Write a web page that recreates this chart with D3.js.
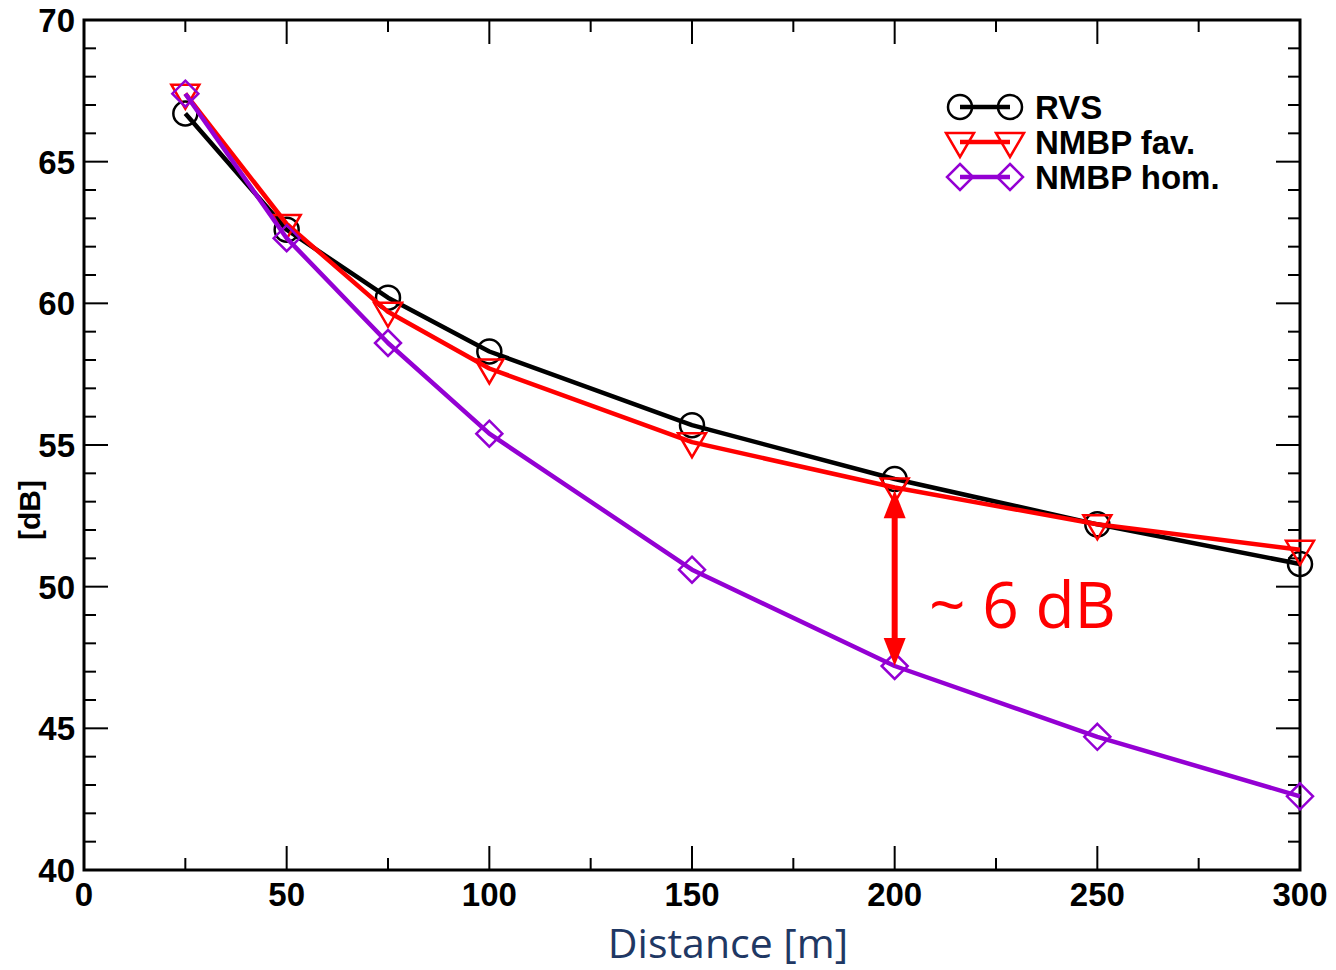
<!DOCTYPE html>
<html><head><meta charset="utf-8">
<script src="https://cdn.jsdelivr.net/npm/d3@7/dist/d3.min.js"></script>
<style>body{margin:0;background:#fff}svg{display:block}</style>
</head><body>
<svg id="c" width="1336" height="970"></svg>
<script>
const distances = [25, 50, 75, 100, 150, 200, 250, 300];
const rvs      = [66.7, 62.6, 60.2, 58.3, 55.7, 53.8, 52.2, 50.8];
const nmbpFav  = [67.4, 62.8, 59.7, 57.7, 55.1, 53.5, 52.2, 51.3];
const nmbpHom  = [67.4, 62.3, 58.6, 55.4, 50.6, 47.2, 44.7, 42.6];
const seriesNames = ["RVS", "NMBP fav.", "NMBP hom."];
const xTicks = [0, 50, 100, 150, 200, 250, 300];
const yTicks = [40, 45, 50, 55, 60, 65, 70];
const annotation = {x: 200, from: 53.4, to: 47.2, label: "~ 6 dB"};

const svg = d3.select("#c");
const L = 84, R = 1300, T = 20, B = 870;
const x = d3.scaleLinear().domain([0, 300]).range([L, R]);
const y = d3.scaleLinear().domain([40, 70]).range([B, T]);
const font = "'Liberation Sans', Arial, Helvetica, sans-serif";

// ticks (inward, all four sides)
const g = svg.append("g").attr("stroke", "#000").attr("stroke-width", 2);
d3.range(0, 301, 25).forEach(v => {
  const len = v % 50 === 0 ? 24 : 12;
  g.append("line").attr("x1", x(v)).attr("x2", x(v)).attr("y1", B).attr("y2", B - len);
  g.append("line").attr("x1", x(v)).attr("x2", x(v)).attr("y1", T).attr("y2", T + len);
});
d3.range(40, 71, 1).forEach(v => {
  const len = v % 5 === 0 ? 24 : 12;
  g.append("line").attr("y1", y(v)).attr("y2", y(v)).attr("x1", L).attr("x2", L + len);
  g.append("line").attr("y1", y(v)).attr("y2", y(v)).attr("x1", R).attr("x2", R - len);
});
svg.append("rect").attr("x", L).attr("y", T).attr("width", R - L).attr("height", B - T)
  .attr("fill", "none").attr("stroke", "#000").attr("stroke-width", 3);

// tick labels
svg.append("g").selectAll("text").data(xTicks).join("text")
  .attr("x", d => x(d)).attr("y", B + 36).attr("text-anchor", "middle")
  .attr("font-family", font).attr("font-weight", "bold").attr("font-size", 33)
  .text(d => d);
svg.append("g").selectAll("text").data(yTicks).join("text")
  .attr("x", L - 9).attr("y", d => y(d) + 12).attr("text-anchor", "end")
  .attr("font-family", font).attr("font-weight", "bold").attr("font-size", 33)
  .text(d => d);

// axis titles
svg.append("text").attr("transform", `translate(40,510) rotate(-90)`)
  .attr("text-anchor", "middle").attr("font-family", font).attr("font-weight", "bold")
  .attr("font-size", 30).text("[dB]");
svg.append("text").attr("x", 728).attr("y", 958).attr("text-anchor", "middle")
  .attr("font-family", "'Open Sans', 'Noto Sans', sans-serif").attr("font-size", 41)
  .attr("fill", "#1f3864").text("Distance [m]");

// markers
const circleM = (sel, s) => sel.append("circle").attr("r", 12).attr("fill", "none").attr("stroke", s.color).attr("stroke-width", 2.5);
const triM = (sel, s) => sel.append("path").attr("d", "M-14,-9L14,-9L0,15Z").attr("fill", "none").attr("stroke", s.color).attr("stroke-width", 2.5);
const diaM = (sel, s) => sel.append("path").attr("d", "M0,-13L13,0L0,13L-13,0Z").attr("fill", "none").attr("stroke", s.color).attr("stroke-width", 2.5);

const series = [
  {name: seriesNames[0], vals: rvs, color: "#000000", marker: circleM},
  {name: seriesNames[1], vals: nmbpFav, color: "#ff0000", marker: triM},
  {name: seriesNames[2], vals: nmbpHom, color: "#9400d3", marker: diaM}
];
const line = d3.line().x(d => x(d[0])).y(d => y(d[1]));
series.forEach(s => {
  const pts = distances.map((d, i) => [d, s.vals[i]]);
  svg.append("path").datum(pts).attr("d", line).attr("fill", "none")
    .attr("stroke", s.color).attr("stroke-width", 4.5).attr("stroke-linejoin", "round");
  pts.forEach(p => {
    const m = svg.append("g").attr("transform", `translate(${x(p[0])},${y(p[1])})`);
    s.marker(m, s);
  });
});

// legend
series.forEach((s, i) => {
  const ly = 107 + i * 35;
  svg.append("line").attr("x1", 960).attr("x2", 1010).attr("y1", ly).attr("y2", ly)
    .attr("stroke", s.color).attr("stroke-width", 4.5);
  [960, 1010].forEach(cx => s.marker(svg.append("g").attr("transform", `translate(${cx},${ly})`), s));
  svg.append("text").attr("x", 1035).attr("y", ly + 12).attr("font-family", font)
    .attr("font-weight", "bold").attr("font-size", 33).text(s.name);
});

// annotation arrow
const ax = x(annotation.x), ay1 = y(annotation.from), ay2 = y(annotation.to);
svg.append("line").attr("x1", ax).attr("x2", ax).attr("y1", ay1 + 24).attr("y2", ay2 - 24)
  .attr("stroke", "#ff0000").attr("stroke-width", 6);
svg.append("path").attr("d", `M${ax},${ay1}L${ax + 11},${ay1 + 28}L${ax - 11},${ay1 + 28}Z`).attr("fill", "#ff0000");
svg.append("path").attr("d", `M${ax},${ay2}L${ax + 11},${ay2 - 28}L${ax - 11},${ay2 - 28}Z`).attr("fill", "#ff0000");
svg.append("text").attr("x", 929).attr("y", 628).attr("font-family", "'Open Sans', 'Noto Sans', sans-serif")
  .attr("font-size", 64).attr("fill", "#ff0000").text(annotation.label);
</script>
</body></html>
